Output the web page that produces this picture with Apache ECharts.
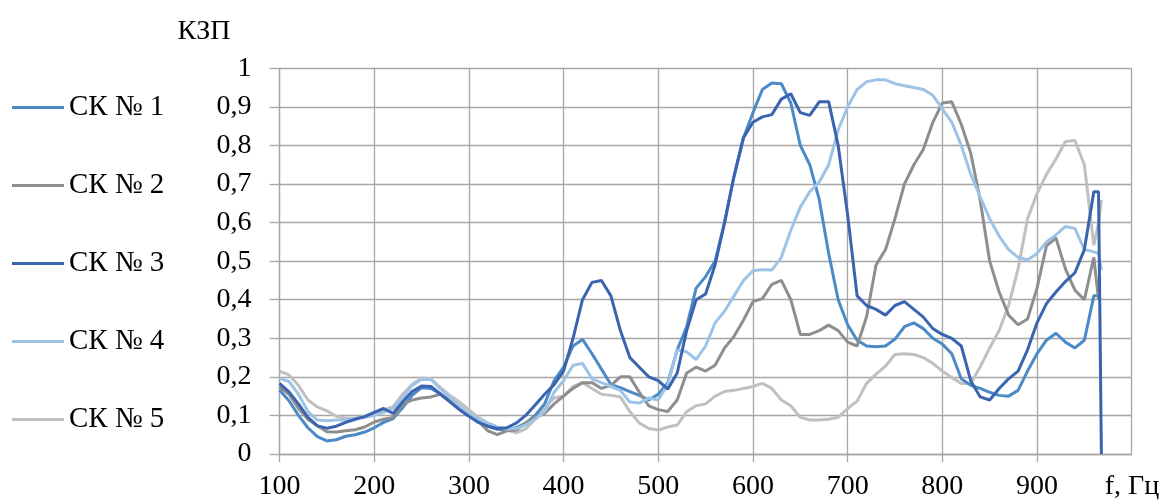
<!DOCTYPE html>
<html>
<head>
<meta charset="utf-8">
<script src="https://cdn.jsdelivr.net/npm/echarts@6/dist/echarts.min.js"></script>
<style>
html,body{margin:0;padding:0;background:#fff;}
#chart{width:1169px;height:503px;}
</style>
</head>
<body>
<div id="chart"></div>
<script>
const freq = [100,110,120,130,140,150,160,170,180,190,200,210,220,230,240,250,260,270,280,290,300,310,320,330,340,350,360,370,380,390,400,410,420,430,440,450,460,470,480,490,500,510,520,530,540,550,560,570,580,590,600,610,620,630,640,650,660,670,680,690,700,710,720,730,740,750,760,770,780,790,800,810,820,830,840,850,860,870,880,890,900,910,920,930,940,950,960,965,968];

const sk1 = [0.166,0.138,0.10,0.068,0.045,0.034,0.037,0.046,0.05,0.057,0.068,0.082,0.092,0.12,0.152,0.172,0.17,0.156,0.136,0.116,0.10,0.085,0.072,0.064,0.062,0.068,0.08,0.10,0.13,0.19,0.225,0.28,0.297,0.26,0.22,0.18,0.172,0.162,0.152,0.14,0.155,0.185,0.27,0.33,0.43,0.46,0.50,0.60,0.72,0.82,0.885,0.945,0.962,0.96,0.91,0.80,0.75,0.66,0.52,0.40,0.335,0.295,0.28,0.278,0.28,0.298,0.33,0.34,0.325,0.30,0.285,0.26,0.195,0.178,0.17,0.16,0.152,0.15,0.165,0.215,0.26,0.295,0.313,0.29,0.275,0.295,0.41,0.41,null];

const sk2 = [0.174,0.155,0.118,0.09,0.073,0.058,0.057,0.06,0.063,0.07,0.083,0.09,0.095,0.128,0.14,0.145,0.148,0.155,0.14,0.12,0.102,0.085,0.06,0.05,0.06,0.062,0.08,0.095,0.105,0.13,0.15,0.17,0.185,0.185,0.17,0.178,0.20,0.20,0.16,0.125,0.115,0.11,0.14,0.21,0.225,0.215,0.23,0.275,0.305,0.347,0.395,0.403,0.44,0.45,0.40,0.31,0.31,0.32,0.334,0.32,0.29,0.28,0.356,0.49,0.53,0.61,0.70,0.75,0.79,0.86,0.91,0.913,0.855,0.78,0.658,0.50,0.42,0.36,0.335,0.35,0.43,0.54,0.56,0.48,0.425,0.40,0.51,0.40,null];

const sk3 = [0.183,0.161,0.13,0.095,0.073,0.067,0.072,0.082,0.09,0.097,0.108,0.118,0.105,0.135,0.162,0.176,0.175,0.155,0.135,0.115,0.098,0.082,0.072,0.066,0.068,0.08,0.10,0.127,0.155,0.18,0.215,0.30,0.40,0.445,0.45,0.41,0.32,0.25,0.225,0.20,0.19,0.168,0.21,0.32,0.40,0.415,0.49,0.60,0.72,0.82,0.86,0.874,0.88,0.92,0.934,0.885,0.878,0.913,0.913,0.80,0.62,0.41,0.385,0.375,0.36,0.385,0.395,0.375,0.355,0.325,0.31,0.30,0.28,0.19,0.148,0.14,0.17,0.195,0.215,0.27,0.34,0.39,0.42,0.447,0.47,0.53,0.68,0.68,0];

const sk4 = [0.196,0.188,0.155,0.11,0.088,0.086,0.088,0.088,0.092,0.095,0.10,0.108,0.118,0.145,0.178,0.193,0.193,0.168,0.147,0.125,0.105,0.09,0.08,0.07,0.065,0.066,0.075,0.09,0.11,0.16,0.19,0.23,0.235,0.195,0.185,0.175,0.165,0.135,0.132,0.145,0.14,0.18,0.27,0.265,0.245,0.28,0.34,0.37,0.41,0.45,0.475,0.478,0.477,0.51,0.58,0.64,0.68,0.705,0.75,0.84,0.90,0.945,0.965,0.97,0.97,0.96,0.955,0.95,0.945,0.93,0.895,0.86,0.80,0.725,0.667,0.61,0.565,0.53,0.51,0.503,0.52,0.55,0.568,0.59,0.585,0.53,0.524,0.52,0.477];

const sk5 = [0.215,0.205,0.178,0.14,0.122,0.112,0.098,0.093,0.093,0.098,0.105,0.114,0.123,0.155,0.18,0.197,0.195,0.172,0.152,0.135,0.115,0.095,0.08,0.07,0.062,0.055,0.065,0.09,0.12,0.145,0.15,0.175,0.185,0.17,0.155,0.152,0.148,0.11,0.08,0.066,0.062,0.07,0.075,0.11,0.125,0.13,0.15,0.162,0.165,0.17,0.175,0.183,0.17,0.14,0.125,0.095,0.088,0.088,0.09,0.095,0.118,0.137,0.183,0.207,0.228,0.258,0.26,0.258,0.25,0.235,0.215,0.198,0.183,0.183,0.226,0.275,0.32,0.385,0.48,0.61,0.675,0.725,0.765,0.81,0.813,0.75,0.541,0.60,0.658];

const seriesNames = ['СК № 1','СК № 2','СК № 3','СК № 4','СК № 5'];
const seriesColors = ['#4a8ac6','#8e8e8e','#3a64b0','#9dc3e6','#c0c0c0'];
const seriesData = [sk1, sk2, sk3, sk4, sk5];

const FONT = 'Liberation Serif';
const gridColor = '#a6a6a6';

const chart = echarts.init(document.getElementById('chart'));
chart.setOption({
  animation: false,
  backgroundColor: '#fff',
  grid: { left: 279.5, top: 68.3, width: 852.2, height: 385.7, containLabel: false },
  legend: {
    orient: 'vertical',
    left: 7,
    top: 88,
    itemWidth: 52,
    itemHeight: 28,
    itemGap: 49,
    icon: 'path://M0,0H52V3H0Z',
    textStyle: { fontFamily: FONT, fontSize: 29, color: '#000', lineHeight: 28 },
    data: seriesNames
  },
  xAxis: {
    type: 'value',
    min: 100, max: 1000, interval: 100,
    name: 'f, Гц',
    nameLocation: 'end',
    nameGap: -27,
    nameTextStyle: { fontFamily: FONT, fontSize: 28, color: '#000', align: 'left', verticalAlign: 'top', padding: [19,0,0,0] },
    axisLine: { show: true, lineStyle: { color: gridColor, width: 1.3 } },
    axisTick: { show: true, length: 8, lineStyle: { color: gridColor, width: 1.3 } },
    splitLine: { show: true, lineStyle: { color: gridColor, width: 1.3 } },
    axisLabel: { fontFamily: FONT, fontSize: 28, color: '#000', margin: 19, showMaxLabel: false,
      formatter: v => v >= 1000 ? '' : String(v) }
  },
  yAxis: {
    type: 'value',
    min: 0, max: 1, interval: 0.1,
    name: 'КЗП',
    nameLocation: 'end',
    nameGap: 37,
    nameTextStyle: { fontFamily: FONT, fontSize: 28, color: '#000', align: 'right', verticalAlign: 'middle', padding: [0, 49, 0, 0] },
    axisLine: { show: true, lineStyle: { color: gridColor, width: 1.3 } },
    axisTick: { show: true, inside: false, length: 10, lineStyle: { color: gridColor, width: 1.3 } },
    splitLine: { show: true, lineStyle: { color: gridColor, width: 1.3 } },
    axisLabel: { fontFamily: FONT, fontSize: 28, color: '#000', margin: 28,
      formatter: v => (Math.round(v * 10) / 10).toString().replace('.', ',') }
  },
  series: seriesNames.map((name, i) => ({
    name: name,
    type: 'line',
    showSymbol: false,
    symbol: 'none',
    connectNulls: false,
    lineStyle: { width: 3, color: seriesColors[i] },
    itemStyle: { color: seriesColors[i] },
    z: [2,3,5,4,1][i],
    data: freq.map((f, k) => [f, seriesData[i][k]])
  }))
});
</script>
</body>
</html>
